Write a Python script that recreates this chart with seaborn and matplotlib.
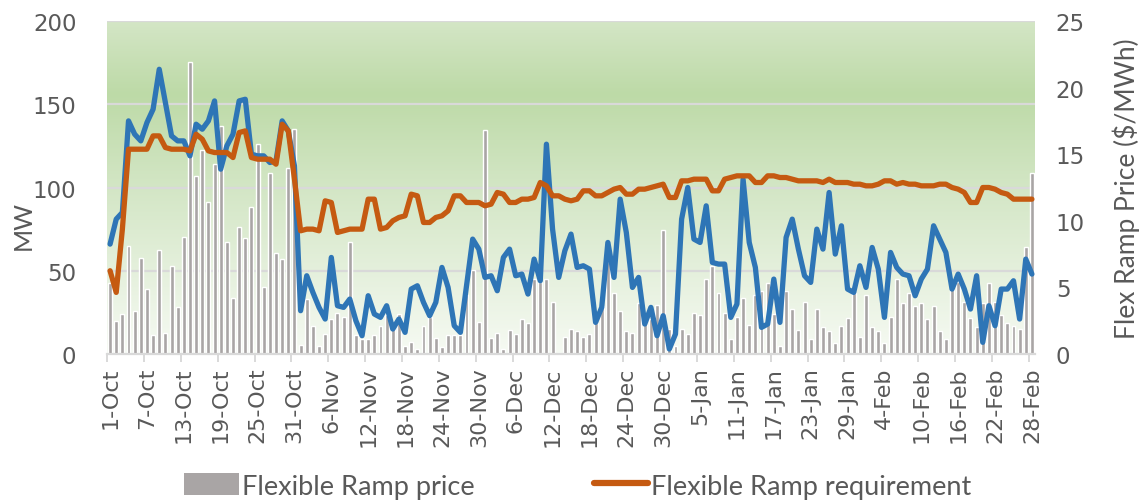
import numpy as np
import pandas as pd
import matplotlib
matplotlib.use("Agg")
import matplotlib.pyplot as plt
from matplotlib.colors import LinearSegmentedColormap
from matplotlib.lines import Line2D
from matplotlib.patches import Patch
import seaborn as sns

# Daily series, 1 Oct - 28 Feb
dates = pd.date_range("2017-10-01", "2018-02-28", freq="D")
day_labels = [f"{d.day}-{d.strftime('%b')}" for d in dates]

# Flexible ramp price ($/MWh), secondary axis
price = [
    5.3, 2.5, 3.0, 8.1, 3.2, 7.2, 4.9, 1.4, 7.8, 1.6,
    6.6, 3.5, 8.8, 21.9, 13.4, 15.3, 11.4, 14.3, 17.1, 8.4,
    4.2, 9.5, 8.7, 11.0, 15.8, 5.0, 13.6, 7.6, 7.1, 14.0,
    16.9, 0.7, 4.1, 2.1, 0.6, 1.5, 2.6, 3.1, 2.8, 8.4,
    1.4, 1.1, 1.1, 1.4, 2.1, 2.9, 1.9, 3.0, 0.6, 0.9,
    0.4, 2.1, 2.8, 1.2, 0.5, 1.4, 1.4, 1.4, 4.4, 6.3,
    2.4, 16.8, 1.2, 1.6, 0.4, 1.8, 1.5, 2.6, 2.3, 5.6,
    5.4, 5.6, 3.9, 0.1, 1.3, 1.9, 1.7, 1.3, 1.5, 2.3,
    3.6, 6.9, 4.6, 3.2, 1.7, 1.6, 3.8, 2.4, 2.6, 3.7,
    9.3, 1.9, 0.6, 1.9, 1.5, 3.1, 2.9, 5.6, 6.6, 4.6,
    3.1, 1.1, 2.8, 4.2, 2.2, 4.4, 4.7, 5.3, 3.0, 0.6,
    4.7, 3.4, 1.8, 3.9, 1.1, 3.4, 2.0, 1.7, 0.8, 2.1,
    2.7, 4.6, 1.3, 4.4, 2.0, 1.7, 0.8, 2.8, 5.6, 3.8,
    4.6, 3.6, 3.8, 2.6, 3.6, 1.7, 1.1, 4.9, 5.4, 3.9,
    2.7, 2.0, 3.8, 5.3, 3.9, 2.9, 2.3, 2.1, 1.9, 8.0,
    13.6,
]

# Flexible ramp requirement (MW)
requirement = [
    50, 37, 75, 123, 123, 123, 123, 131, 131, 124,
    123, 123, 123, 122, 132, 129, 122, 121, 121, 121,
    118, 133, 134, 118, 117, 117, 117, 114, 138, 134,
    105, 74, 75, 75, 74, 92, 91, 73, 74, 75,
    75, 75, 93, 93, 75, 76, 80, 82, 83, 96,
    95, 79, 79, 82, 83, 86, 95, 95, 91, 91,
    91, 89, 90, 97, 96, 91, 91, 93, 93, 94,
    103, 101, 95, 95, 93, 92, 93, 98, 98, 95,
    95, 97, 99, 100, 96, 96, 99, 99, 100, 101,
    102, 94, 94, 104, 104, 105, 105, 105, 98, 98,
    105, 106, 107, 107, 107, 103, 103, 107, 107, 106,
    106, 105, 104, 104, 104, 104, 103, 105, 103, 103,
    103, 102, 102, 101, 101, 102, 104, 104, 102, 103,
    102, 102, 101, 101, 101, 102, 102, 100, 99, 97,
    91, 91, 100, 100, 99, 97, 96, 93, 93, 93,
    93,
]

# Flexible ramp procured (MW)
procured = [
    66, 81, 85, 140, 132, 128, 139, 147, 171, 151,
    131, 128, 128, 119, 138, 135, 140, 152, 111, 125,
    132, 152, 153, 120, 119, 119, 115, 116, 140, 134,
    113, 26, 47, 37, 28, 21, 58, 29, 28, 33,
    20, 11, 35, 24, 22, 29, 15, 21, 13, 39,
    41, 31, 23, 31, 52, 40, 17, 13, 41, 69,
    63, 46, 47, 38, 58, 63, 47, 48, 36, 57,
    44, 126, 75, 46, 62, 72, 52, 53, 51, 19,
    28, 67, 46, 93, 73, 40, 46, 18, 28, 11,
    23, 3, 12, 81, 100, 69, 67, 89, 55, 54,
    54, 22, 30, 105, 67, 52, 16, 18, 45, 19,
    70, 81, 63, 47, 43, 75, 63, 97, 60, 77,
    39, 37, 53, 40, 64, 51, 22, 61, 52, 48,
    47, 35, 45, 51, 77, 69, 61, 39, 48, 39,
    27, 47, 7, 29, 17, 39, 39, 44, 21, 57,
    48,
]

df = pd.DataFrame({
    "day": np.arange(len(dates)),
    "label": day_labels,
    "price": price,
    "requirement": requirement,
    "procured": procured,
})

sns.set_theme(style="white")
plt.rcParams["font.family"] = ["DejaVu Sans"]

TXT = "#595959"
GRAY = "#a9a5a5"
ORANGE = "#c55a11"
BLUE = "#2e75b6"
GRID = "#d9d9d9"

fig = plt.figure(figsize=(11.42, 5.02), dpi=100)
ax = fig.add_axes([0.0937, 0.2928, 0.8126, 0.6634])
ax2 = ax.twinx()

n = len(df)
xlim = (-0.5, n - 0.5)

# Bottom layer (ax2): gradient, gridlines, price bars
bg = LinearSegmentedColormap.from_list(
    "bg", [(0.0, "#f6faf3"), (0.5, "#d3e6c5"), (0.78, "#bddaa7"), (1.0, "#d4e6c6")]
)
grad = np.linspace(0, 1, 256).reshape(-1, 1)
ax2.imshow(grad, extent=[xlim[0], xlim[1], 0, 25], origin="lower",
           aspect="auto", cmap=bg, zorder=0)

MW_MAX, PRICE_MAX = 200, 25
for mw in [50, 100, 150, 200]:
    ax2.axhline(mw * PRICE_MAX / MW_MAX, color=GRID, lw=1.6, zorder=1)

sns.barplot(data=df, x="day", y="price", ax=ax2, color=GRAY,
            width=0.64, saturation=1, native_scale=True, zorder=2)

# Top layer (ax): MW lines
ax.set_zorder(ax2.get_zorder() + 1)
ax.patch.set_visible(False)
sns.lineplot(data=df, x="day", y="procured", ax=ax, color=BLUE, lw=3.8)
sns.lineplot(data=df, x="day", y="requirement", ax=ax, color=ORANGE, lw=3.8)

for a in (ax, ax2):
    a.set_xlim(*xlim)
    for s in a.spines.values():
        s.set_visible(False)
    a.set_xlabel("")

ax.set_ylim(0, MW_MAX)
ax2.set_ylim(0, PRICE_MAX)
ax.set_yticks([0, 50, 100, 150, 200])
ax2.set_yticks([0, 5, 10, 15, 20, 25])
ax.tick_params(axis="y", length=0, labelsize=16.5, labelcolor=TXT, pad=22)
ax2.tick_params(axis="y", length=0, labelsize=16.5, labelcolor=TXT, pad=15)

# x axis: labels every 6 days at category centres, tick marks at category edges
ax.spines["bottom"].set_visible(True)
ax.spines["bottom"].set_color(GRID)
ax.spines["bottom"].set_linewidth(1.6)
lab_pos = list(range(0, n, 6))
ax.set_xticks(lab_pos)
ax.set_xticklabels([df["label"][i] for i in lab_pos], rotation=90,
                   fontsize=16, color=TXT)
ax.set_xticks([p - 0.5 for p in lab_pos], minor=True)
ax.tick_params(axis="x", which="major", bottom=True, length=0, pad=9)
ax.tick_params(axis="x", which="minor", bottom=True, length=6, width=1.4,
               color=GRID)

ax.set_ylabel("MW", fontsize=18, color=TXT, family="Lato")
ax.yaxis.set_label_coords(-0.078, 0.39)
ax2.set_ylabel("Flex Ramp Price ($/MWh)", fontsize=19, color=TXT,
               family="Lato", rotation=90)
ax2.yaxis.set_label_coords(1.083, 0.5)

handles = [
    Patch(facecolor=GRAY, edgecolor="none"),
    Line2D([0], [0], color=ORANGE, lw=4.5),
]
fig.legend(handles, ["Flexible Ramp price", "Flexible Ramp requirement"],
           loc="center", bbox_to_anchor=(0.506, 0.03), ncol=2, frameon=False,
           prop={"family": "Lato", "size": 19.5},
           labelcolor=TXT, handlelength=2.0, handleheight=0.85,
           columnspacing=4.4, handletextpad=0.12)

fig.savefig("out.png", dpi=100)
